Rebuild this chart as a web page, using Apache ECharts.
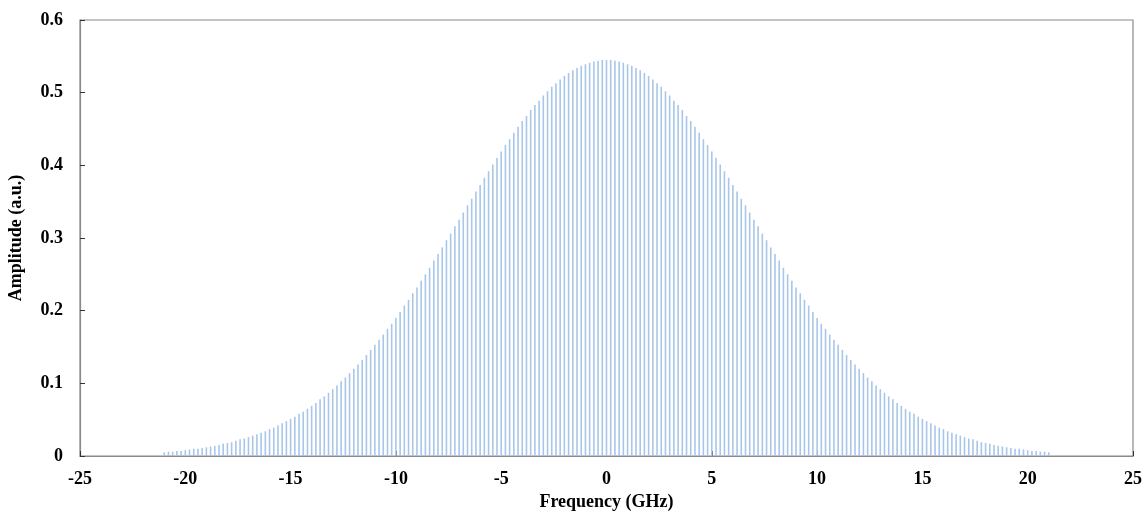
<!DOCTYPE html>
<html>
<head>
<meta charset="utf-8">
<title>Frequency comb</title>
<script src="https://cdn.jsdelivr.net/npm/echarts@6/dist/echarts.min.js"></script>
<style>
	html, body { margin: 0; padding: 0; background: #ffffff; }
	#combChart { width: 1148px; height: 513px; }
</style>
</head>
<body>
<div id="combChart"></div>
<script>
// 频率梳线位置 (GHz)
var combFreq = [
	-21.0, -20.8, -20.6, -20.4, -20.2, -20.0, -19.8, -19.6, -19.4, -19.2,
	-19.0, -18.8, -18.6, -18.4, -18.2, -18.0, -17.8, -17.6, -17.4, -17.2,
	-17.0, -16.8, -16.6, -16.4, -16.2, -16.0, -15.8, -15.6, -15.4, -15.2,
	-15.0, -14.8, -14.6, -14.4, -14.2, -14.0, -13.8, -13.6, -13.4, -13.2,
	-13.0, -12.8, -12.6, -12.4, -12.2, -12.0, -11.8, -11.6, -11.4, -11.2,
	-11.0, -10.8, -10.6, -10.4, -10.2, -10.0, -9.8, -9.6, -9.4, -9.2,
	-9.0, -8.8, -8.6, -8.4, -8.2, -8.0, -7.8, -7.6, -7.4, -7.2,
	-7.0, -6.8, -6.6, -6.4, -6.2, -6.0, -5.8, -5.6, -5.4, -5.2,
	-5.0, -4.8, -4.6, -4.4, -4.2, -4.0, -3.8, -3.6, -3.4, -3.2,
	-3.0, -2.8, -2.6, -2.4, -2.2, -2.0, -1.8, -1.6, -1.4, -1.2,
	-1.0, -0.8, -0.6, -0.4, -0.2, 0.0, 0.2, 0.4, 0.6, 0.8,
	1.0, 1.2, 1.4, 1.6, 1.8, 2.0, 2.2, 2.4, 2.6, 2.8,
	3.0, 3.2, 3.4, 3.6, 3.8, 4.0, 4.2, 4.4, 4.6, 4.8,
	5.0, 5.2, 5.4, 5.6, 5.8, 6.0, 6.2, 6.4, 6.6, 6.8,
	7.0, 7.2, 7.4, 7.6, 7.8, 8.0, 8.2, 8.4, 8.6, 8.8,
	9.0, 9.2, 9.4, 9.6, 9.8, 10.0, 10.2, 10.4, 10.6, 10.8,
	11.0, 11.2, 11.4, 11.6, 11.8, 12.0, 12.2, 12.4, 12.6, 12.8,
	13.0, 13.2, 13.4, 13.6, 13.8, 14.0, 14.2, 14.4, 14.6, 14.8,
	15.0, 15.2, 15.4, 15.6, 15.8, 16.0, 16.2, 16.4, 16.6, 16.8,
	17.0, 17.2, 17.4, 17.6, 17.8, 18.0, 18.2, 18.4, 18.6, 18.8,
	19.0, 19.2, 19.4, 19.6, 19.8, 20.0, 20.2, 20.4, 20.6, 20.8,
	21.0
];
// 梳线幅度 (a.u.)
var combAmp = [
	0.005, 0.006, 0.006, 0.007, 0.007, 0.008, 0.009, 0.010, 0.010, 0.011,
	0.012, 0.013, 0.014, 0.015, 0.017, 0.018, 0.019, 0.021, 0.023, 0.024,
	0.026, 0.028, 0.030, 0.032, 0.034, 0.037, 0.039, 0.042, 0.045, 0.048,
	0.051, 0.054, 0.058, 0.061, 0.065, 0.069, 0.073, 0.078, 0.082, 0.087,
	0.092, 0.097, 0.103, 0.108, 0.114, 0.120, 0.126, 0.132, 0.139, 0.146,
	0.153, 0.160, 0.167, 0.175, 0.182, 0.190, 0.198, 0.207, 0.215, 0.224,
	0.232, 0.241, 0.250, 0.259, 0.269, 0.278, 0.287, 0.297, 0.306, 0.316,
	0.325, 0.335, 0.345, 0.354, 0.364, 0.373, 0.383, 0.392, 0.401, 0.410,
	0.419, 0.428, 0.436, 0.445, 0.453, 0.461, 0.468, 0.476, 0.483, 0.489,
	0.496, 0.502, 0.508, 0.513, 0.518, 0.523, 0.527, 0.531, 0.534, 0.537,
	0.539, 0.541, 0.543, 0.544, 0.545, 0.545, 0.545, 0.544, 0.543, 0.541,
	0.539, 0.537, 0.534, 0.531, 0.527, 0.523, 0.518, 0.513, 0.508, 0.502,
	0.496, 0.489, 0.483, 0.476, 0.468, 0.461, 0.453, 0.445, 0.436, 0.428,
	0.419, 0.410, 0.401, 0.392, 0.383, 0.373, 0.364, 0.354, 0.345, 0.335,
	0.325, 0.316, 0.306, 0.297, 0.287, 0.278, 0.269, 0.259, 0.250, 0.241,
	0.232, 0.224, 0.215, 0.207, 0.198, 0.190, 0.182, 0.175, 0.167, 0.160,
	0.153, 0.146, 0.139, 0.132, 0.126, 0.120, 0.114, 0.108, 0.103, 0.097,
	0.092, 0.087, 0.082, 0.078, 0.073, 0.069, 0.065, 0.061, 0.058, 0.054,
	0.051, 0.048, 0.045, 0.042, 0.039, 0.037, 0.034, 0.032, 0.030, 0.028,
	0.026, 0.024, 0.023, 0.021, 0.019, 0.018, 0.017, 0.015, 0.014, 0.013,
	0.012, 0.011, 0.010, 0.010, 0.009, 0.008, 0.007, 0.007, 0.006, 0.006,
	0.005
];
// 坐标轴刻度
var xTicks = [-25, -20, -15, -10, -5, 0, 5, 10, 15, 20, 25];
var yTicks = [0, 0.1, 0.2, 0.3, 0.4, 0.5, 0.6];

var myChart;
var axisFont = {
	fontFamily : 'Liberation Serif',
	fontWeight : 'bold',
	fontSize : 18,
	color : '#000000'
};

function chartInit() {
	myChart = echarts.init(document.getElementById('combChart'));
	var pairs = new Array();
	for (var i = 0; i < combFreq.length; i++) {
		pairs.push([combFreq[i], combAmp[i]]);
	}
	var option = {
		animation : false,
		grid : {
			left : 80,
			right : 15,
			top : 20,
			bottom : 57,
			outerBoundsMode : 'none',
			containLabel : false,
			show : true,
			borderColor : '#8a8a8a',
			borderWidth : 1.2
		},
		xAxis : {
			type : 'value',
			min : xTicks[0],
			max : xTicks[xTicks.length - 1],
			interval : xTicks[1] - xTicks[0],
			name : 'Frequency (GHz)',
			nameLocation : 'middle',
			nameGap : 37,
			nameTextStyle : axisFont,
			axisLine : { onZero : false, lineStyle : { color : '#8a8a8a', width : 1.2 } },
			axisTick : { inside : true, length : 5, lineStyle : { color : '#333333' } },
			axisLabel : $extend({ margin : 14 }, axisFont),
			splitLine : { show : false }
		},
		yAxis : {
			type : 'value',
			min : yTicks[0],
			max : yTicks[yTicks.length - 1],
			interval : 0.1,
			name : 'Amplitude (a.u.)',
			nameLocation : 'middle',
			nameGap : 55,
			nameTextStyle : axisFont,
			axisLine : { show : true, onZero : false, lineStyle : { color : '#8a8a8a', width : 1.2 } },
			axisTick : { show : true, inside : true, length : 5, lineStyle : { color : '#333333' } },
			axisLabel : $extend({ margin : 17 }, axisFont),
			splitLine : { show : false }
		},
		series : [{
			name : 'comb',
			type : 'bar',
			barWidth : 1.6,
			itemStyle : { color : '#a8c6ea' },
			data : pairs
		}]
	};
	myChart.setOption(option);
}

// 简单合并对象
function $extend(a, b) {
	var r = {};
	for (var k in a) r[k] = a[k];
	for (var k2 in b) r[k2] = b[k2];
	return r;
}

chartInit();
</script>
</body>
</html>
